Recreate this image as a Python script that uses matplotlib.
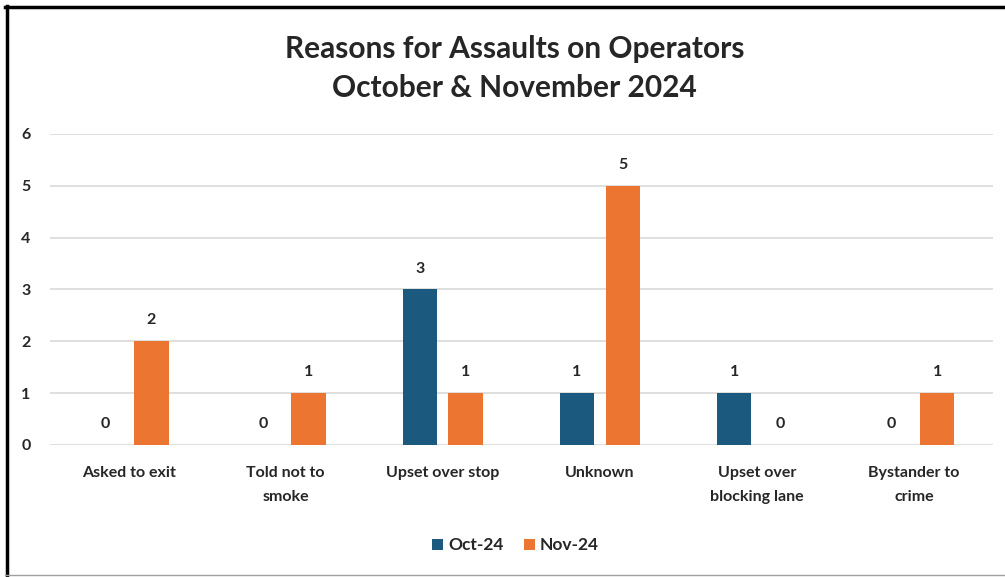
import matplotlib
matplotlib.use("Agg")
import matplotlib.pyplot as plt
import numpy as np
from matplotlib.lines import Line2D

categories = ["Asked to exit", "Told not to\nsmoke", "Upset over stop", "Unknown",
              "Upset over\nblocking lane", "Bystander to\ncrime"]
series_names = ["Oct-24", "Nov-24"]
oct_vals = [0, 0, 3, 1, 1, 0]
nov_vals = [2, 1, 1, 5, 0, 1]
yticks = [0, 1, 2, 3, 4, 5, 6]

plt.rcParams['font.family'] = ['Lato', 'DejaVu Sans']
c_oct = "#1B5A7E"
c_nov = "#EC7532"
txt = "#262626"

fig = plt.figure(figsize=(10.05, 5.77), dpi=100)
ax = fig.add_axes([0.0498, 0.2288, 0.938, 0.539])

x = np.arange(len(categories))
w = 0.22
off = 0.146
b1 = ax.bar(x - off, oct_vals, w, color=c_oct, label=series_names[0], zorder=3)
b2 = ax.bar(x + off, nov_vals, w, color=c_nov, label=series_names[1], zorder=3)
for bars, vals in ((b1, oct_vals), (b2, nov_vals)):
    for rect, v in zip(bars, vals):
        ax.annotate(str(v), (rect.get_x() + rect.get_width() / 2, v),
                    xytext=(0, 10), textcoords="offset points",
                    ha="center", va="bottom", fontsize=11.5, fontweight="bold", color=txt)

ax.set_xlim(-0.5, len(categories) - 0.5)
ax.set_ylim(0, 6)
ax.set_yticks(yticks)
ax.set_yticklabels([str(t) for t in yticks], fontsize=11.5, fontweight="bold", color=txt)
ax.set_xticks(x)
ax.set_xticklabels(categories, fontsize=11.5, fontweight="bold", color=txt, linespacing=1.9)
ax.tick_params(axis="both", length=0)
ax.tick_params(axis="y", pad=14)
ax.tick_params(axis="x", pad=15)
ax.grid(axis="y", color="#D9D9D9", linewidth=1.2, zorder=0)
for s in ax.spines.values():
    s.set_visible(False)

fig.text(0.512, 0.881, "Reasons for Assaults on Operators\nOctober & November 2024",
         ha="center", va="center", fontsize=21.5, fontweight="bold", color=txt, linespacing=1.47)

leg = fig.legend(handles=[b1, b2], labels=series_names, loc="center", bbox_to_anchor=(0.513, 0.055),
                 ncol=2, frameon=False, fontsize=12.5, handlelength=0.6, handleheight=0.6,
                 handletextpad=0.3, columnspacing=1.2)
for t in leg.get_texts():
    t.set_fontweight("bold")
    t.set_color(txt)

# frame lines
fig.add_artist(Line2D([0.0065, 0.0065], [0, 0.99], transform=fig.transFigure, color="black", linewidth=2.5))
fig.add_artist(Line2D([0.005, 1.0], [0.988, 0.988], transform=fig.transFigure, color="black", linewidth=2.5))
fig.add_artist(Line2D([0.005, 1.0], [0.003, 0.003], transform=fig.transFigure, color="#A0A0A0", linewidth=1))

fig.savefig("out.png", dpi=100)
